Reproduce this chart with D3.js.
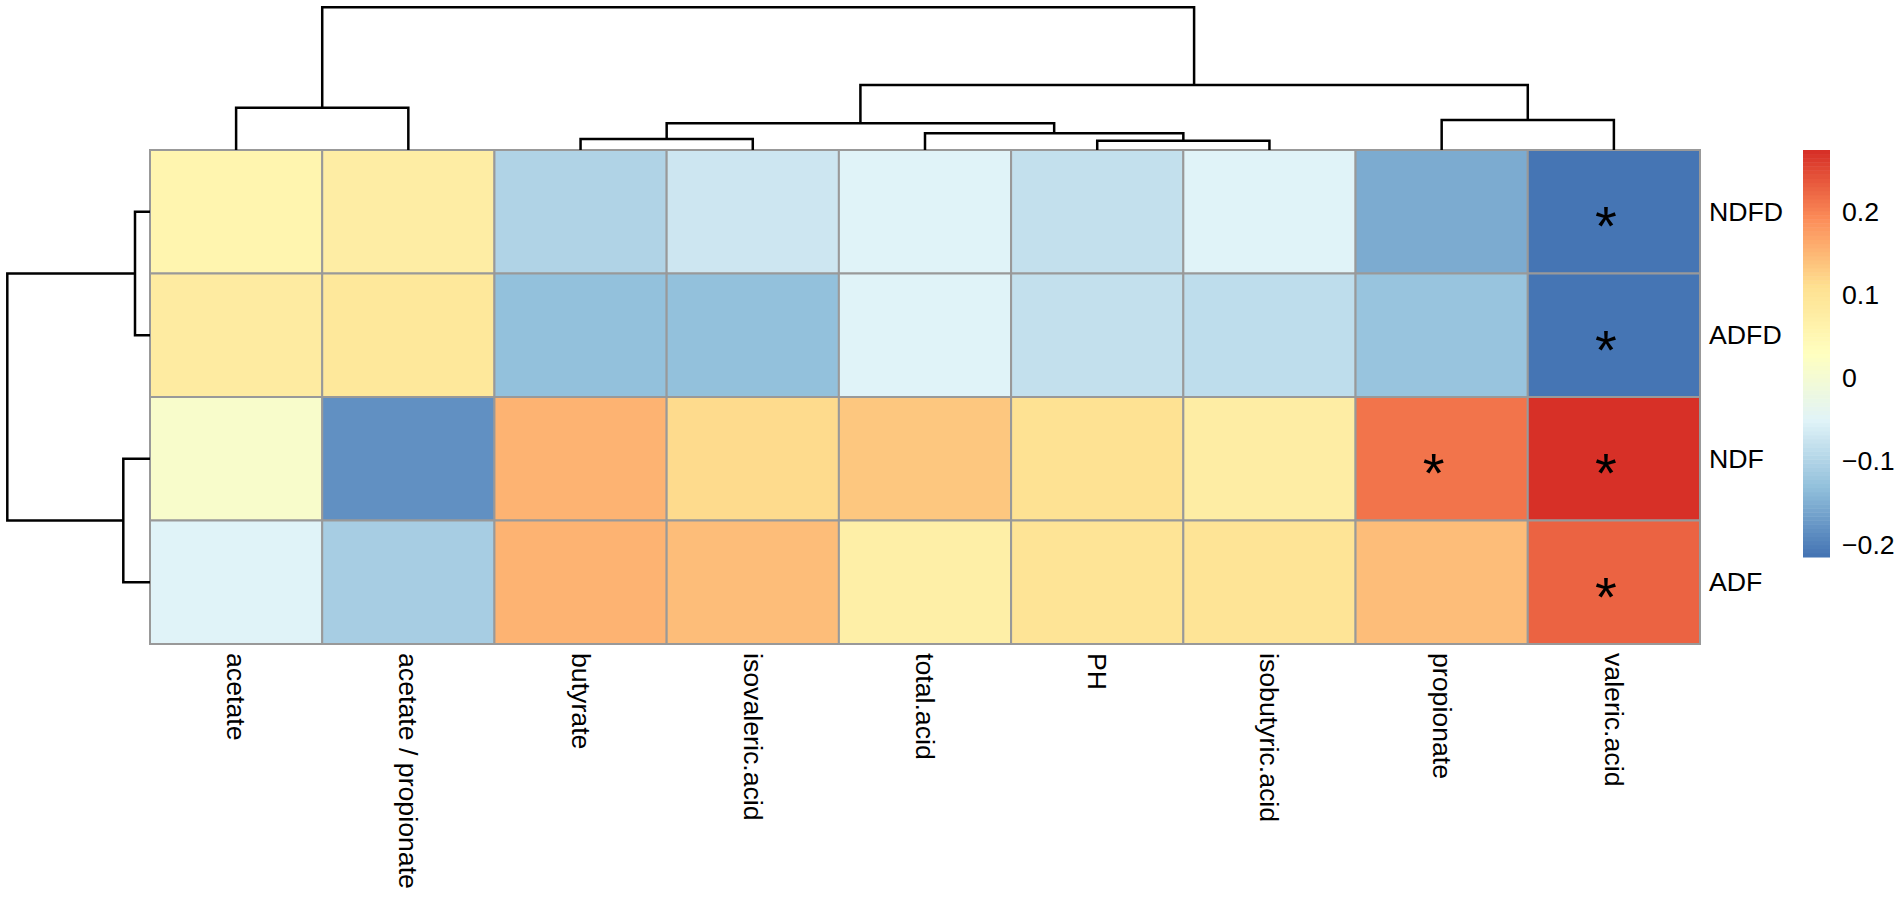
<!DOCTYPE html>
<html>
<head>
<meta charset="utf-8">
<script src="https://cdn.jsdelivr.net/npm/d3@7"></script>
<style>
  body { margin: 0; background: #fff; }
  text { font-family: "Liberation Sans", Arial, Helvetica, sans-serif; }
</style>
</head>
<body>
<script>
// ---- data ----
const colNames = ['acetate', 'acetate / propionate', 'butyrate', 'isovaleric.acid',
    'total.acid', 'PH', 'isobutyric.acid', 'propionate', 'valeric.acid']
const rowNames = ['NDFD', 'ADFD', 'NDF', 'ADF']

// correlation per row, in column order above
const ndfdValues = [0.058, 0.077, -0.099, -0.069, -0.053, -0.082, -0.053, -0.152, -0.215]
const adfdValues = [0.082, 0.090, -0.128, -0.127, -0.052, -0.080, -0.085, -0.123, -0.213]
const ndfValues  = [0.012, -0.184, 0.154, 0.115, 0.137, 0.104, 0.074, 0.213, 0.274]
const adfValues  = [-0.051, -0.110, 0.155, 0.142, 0.069, 0.098, 0.100, 0.143, 0.227]

// significance marks
const ndfdStars = ['', '', '', '', '', '', '', '', '*']
const adfdStars = ['', '', '', '', '', '', '', '', '*']
const ndfStars  = ['', '', '', '', '', '', '', '*', '*']
const adfStars  = ['', '', '', '', '', '', '', '', '*']

// hclust style merges (negative = leaf, 1-based display order; positive = earlier merge)
const colMerge = [[-6, -7], [-3, -4], [-5, 1], [2, 3], [-8, -9], [-1, -2], [4, 5], [6, 7]]
const colHeights = [0.093, 0.110, 0.167, 0.267, 0.300, 0.423, 0.650, 1.427]
const rowMerge = [[-1, -2], [-3, -4], [1, 2]]
const rowHeights = [0.150, 0.267, 1.427]

const legendTicks = [-0.2, -0.1, 0, 0.1, 0.2]
const legendTickLabels = ['\u22120.2', '\u22120.1', '0', '0.1', '0.2']

const paletteStops = ['#4575B4', '#91BFDB', '#E0F3F8', '#FFFFBF', '#FEE090', '#FC8D59', '#D73027']

// ---- layout ----
const W = 1901, H = 898
const heat = {left: 150, top: 150, right: 1700, bottom: 644}
const treeTop = 7.3
const legend = {x: 1803, w: 27, top: 150, bottom: 557}
const fontSize = 26.7

const matrix = [ndfdValues, adfdValues, ndfValues, adfValues]
const stars = [ndfdStars, adfdStars, ndfStars, adfStars]

const svg = d3.select('body').append('svg')
    .attr('width', W)
    .attr('height', H)
    .style('display', 'block')

svg.append('rect').attr('width', W).attr('height', H).attr('fill', 'white')

const x = d3.scaleBand().domain(colNames).range([heat.left, heat.right])
const y = d3.scaleBand().domain(rowNames).range([heat.top, heat.bottom])

// 100 colour ramp like colorRampPalette(rev(RdYlBu))(100)
const all = matrix.flat()
const vmin = d3.min(all), vmax = d3.max(all)
const ramp = d3.scaleLinear()
    .domain(d3.range(paletteStops.length).map(i => i / (paletteStops.length - 1)))
    .range(paletteStops)
const colors = d3.range(100).map(i => ramp(i / 99))
const color = d3.scaleQuantize().domain([vmin, vmax]).range(colors)

// ---- cells ----
const cells = []
matrix.forEach((row, r) => row.forEach((v, c) => {
    cells.push({row: rowNames[r], col: colNames[c], value: v, star: stars[r][c]})
}))

svg.append('g').selectAll('rect')
    .data(cells)
    .join('rect')
    .attr('x', d => x(d.col))
    .attr('y', d => y(d.row))
    .attr('width', x.bandwidth())
    .attr('height', y.bandwidth())
    .attr('fill', d => color(d.value))
    .attr('stroke', '#999999')
    .attr('stroke-width', 2)

const starSize = 56
svg.append('g').selectAll('text')
    .data(cells.filter(d => d.star))
    .join('text')
    .attr('x', d => x(d.col) + x.bandwidth() / 2 - 8)
    .attr('y', d => y(d.row) + y.bandwidth() / 2 + 1 + 0.58 * starSize)
    .attr('text-anchor', 'middle')
    .style('font-size', starSize + 'px')
    .attr('fill', 'black')
    .text(d => d.star)

// ---- dendrograms ----
function treeSegments(merge, heights, leafPos){
    const pos = [], hgt = []
    const get = k => k < 0 ? [leafPos(-k - 1), 0] : [pos[k - 1], hgt[k - 1]]
    const segs = []
    merge.forEach((m, i) => {
        const [pa, ha] = get(m[0])
        const [pb, hb] = get(m[1])
        pos.push((pa + pb) / 2)
        hgt.push(heights[i])
        segs.push({pa, ha, pb, hb, h: heights[i]})
    })
    return segs
}

const colLeaf = i => x(colNames[i]) + x.bandwidth() / 2
const rowLeaf = i => y(rowNames[i]) + y.bandwidth() / 2

const colH = d3.scaleLinear().domain([0, d3.max(colHeights)]).range([heat.top, treeTop])
const rowH = d3.scaleLinear().domain([0, d3.max(rowHeights)]).range([heat.left, treeTop])

svg.append('g').selectAll('path')
    .data(treeSegments(colMerge, colHeights, colLeaf))
    .join('path')
    .attr('d', d => `M${d.pa},${colH(d.ha)}V${colH(d.h)}H${d.pb}V${colH(d.hb)}`)
    .attr('fill', 'none')
    .attr('stroke', 'black')
    .attr('stroke-width', 2.5)

svg.append('g').selectAll('path')
    .data(treeSegments(rowMerge, rowHeights, rowLeaf))
    .join('path')
    .attr('d', d => `M${rowH(d.ha)},${d.pa}H${rowH(d.h)}V${d.pb}H${rowH(d.hb)}`)
    .attr('fill', 'none')
    .attr('stroke', 'black')
    .attr('stroke-width', 2.5)

// ---- labels ----
svg.append('g').selectAll('text')
    .data(rowNames)
    .join('text')
    .attr('x', heat.right + 9)
    .attr('y', d => y(d) + y.bandwidth() / 2)
    .attr('dominant-baseline', 'central')
    .style('font-size', fontSize + 'px')
    .attr('fill', 'black')
    .text(d => d)

svg.append('g').selectAll('text')
    .data(colNames)
    .join('text')
    .attr('transform', d => `translate(${x(d) + x.bandwidth() / 2},${heat.bottom + 9}) rotate(90)`)
    .attr('dominant-baseline', 'central')
    .style('font-size', fontSize + 'px')
    .attr('fill', 'black')
    .text(d => d)

// ---- legend ----
const ly = d3.scaleLinear().domain([vmin, vmax]).range([legend.bottom, legend.top])
const step = (vmax - vmin) / colors.length

svg.append('g').selectAll('rect')
    .data(colors)
    .join('rect')
    .attr('x', legend.x)
    .attr('y', (d, i) => ly(vmin + (i + 1) * step))
    .attr('width', legend.w)
    .attr('height', (d, i) => ly(vmin + i * step) - ly(vmin + (i + 1) * step) + 0.5)
    .attr('fill', d => d)

svg.append('g').selectAll('text')
    .data(legendTicks)
    .join('text')
    .attr('x', legend.x + legend.w + 12)
    .attr('y', d => ly(d))
    .attr('dominant-baseline', 'central')
    .style('font-size', fontSize + 'px')
    .attr('fill', 'black')
    .text((d, i) => legendTickLabels[i])
</script>
</body>
</html>
